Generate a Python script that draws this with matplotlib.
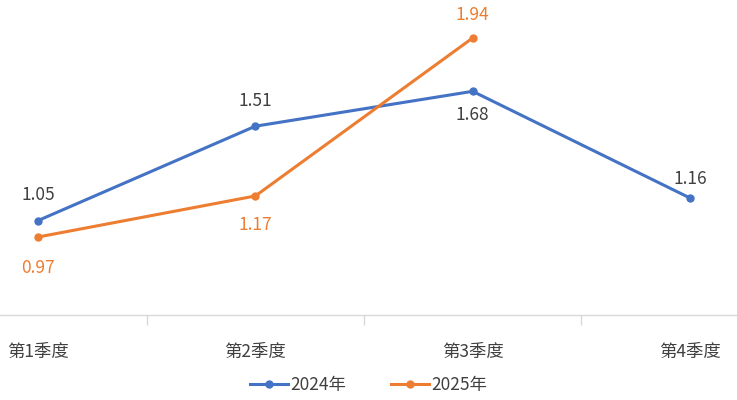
import matplotlib.pyplot as plt

plt.rcParams['font.family'] = ['Noto Sans CJK SC', 'DejaVu Sans']

quarters = ['第1季度', '第2季度', '第3季度', '第4季度']
values_2024 = [1.05, 1.51, 1.68, 1.16]
values_2025 = [0.97, 1.17, 1.94]
# label offset from the point, in pixels (positive = above)
off_2024 = [26, 25, -24, 19]
off_2025 = [-31, -29, 23]

blue = '#4472C4'
orange = '#ED7D31'
grey = '#404040'

fig = plt.figure(figsize=(7.37, 4.0), dpi=100)
ax = fig.add_axes([0, 85 / 400, 1, 315 / 400])

x24 = list(range(len(values_2024)))
x25 = list(range(len(values_2025)))
ax.plot(x24, values_2024, color=blue, lw=2.2, marker='o', ms=5, label='2024年', clip_on=False)
ax.plot(x25, values_2025, color=orange, lw=2.2, marker='o', ms=5, label='2025年', clip_on=False)

for x, v, o in zip(x24, values_2024, off_2024):
    ax.annotate(f'{v:.2f}', (x, v), xytext=(0, o * 0.72), textcoords='offset points',
                ha='center', va='center', fontsize=12.5, color=grey)
for x, v, o in zip(x25, values_2025, off_2025):
    ax.annotate(f'{v:.2f}', (x, v), xytext=(0, o * 0.72), textcoords='offset points',
                ha='center', va='center', fontsize=12.5, color=orange)

ax.set_xlim(-38 / 217.5, 3 + 47 / 217.5)
ax.set_ylim(0.59, 2.125)

for s in ['top', 'right', 'left']:
    ax.spines[s].set_visible(False)
ax.spines['bottom'].set_color('#D9D9D9')
ax.spines['bottom'].set_linewidth(1)
ax.set_yticks([])

ax.set_xticks(x24)
ax.set_xticklabels(quarters, fontsize=12.5, color=grey)
ax.set_xticks([0.5, 1.5, 2.5], minor=True)
ax.tick_params(axis='x', which='major', length=0, pad=20)
ax.tick_params(axis='x', which='minor', length=7, color='#D9D9D9', width=1)

fig.legend(loc='center', bbox_to_anchor=(0.5, 1 - 385 / 400), ncol=2, frameon=False,
           fontsize=12.5, labelcolor=grey, handlelength=2.2, columnspacing=2.6, handletextpad=0.1)

fig.savefig('out.png', dpi=100)
